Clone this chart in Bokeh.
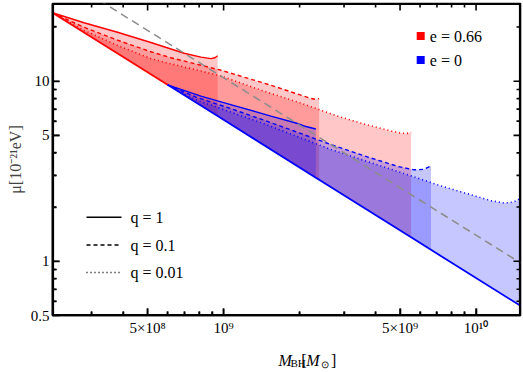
import math
from bokeh.plotting import figure
from bokeh.layouts import column
from bokeh.models import FixedTicker, Range1d
from bokeh.core.properties import value
from bokeh.embed import file_html
from bokeh.resources import INLINE

# ---------------- data ----------------
x_limits = [2.1e8, 1.5e10]
y_limits = [0.5, 27.0]

x_major_ticks = [5e8, 1e9, 5e9, 1e10]
x_major_labels = ["5×10⁸", "10⁹", "5×10⁹", "10¹⁰"]
x_minor_ticks = [3e8, 4e8, 6e8, 7e8, 8e8, 9e8, 2e9, 3e9, 4e9, 6e9, 7e9, 8e9, 9e9]
y_major_ticks = [0.5, 1, 5, 10]
y_major_labels = ["0.5", "1", "5", "10"]
y_minor_ticks = [0.6, 0.7, 0.8, 0.9, 2, 3, 4, 6, 7, 8, 9, 20]

# lower bound (common to all regions)
lower_M = [2.1e8, 6.0e8, 9.47e8, 2.32e9, 2.39e9, 5.53e9, 6.63e9, 1.5e10]
lower_mu = [24.0, 9.55, 6.40, 2.91, 2.84, 1.358, 1.158, 0.566]

# e = 0.66
red_q1_M = [2.1e8, 2.80e8, 3.80e8, 5.15e8, 6.98e8, 8.13e8, 8.91e8, 9.24e8, 9.47e8]
red_q1_mu = [24.0, 21.1, 18.7, 16.4, 14.3, 13.6, 13.35, 13.5, 13.84]
red_q01_M = [2.1e8, 2.80e8, 3.80e8, 5.15e8, 6.18e8, 9.76e8, 1.54e9, 2.025e9, 2.22e9, 2.32e9, 2.39e9]
red_q01_mu = [24.0, 19.9, 16.9, 14.57, 13.5, 11.5, 9.50, 8.36, 8.02, 7.92, 8.00]
red_q001_M = [2.1e8, 2.80e8, 3.80e8, 5.15e8, 6.18e8, 9.76e8, 1.405e9, 2.025e9, 2.79e9, 3.60e9,
              4.60e9, 5.04e9, 5.33e9, 5.53e9]
red_q001_mu = [24.0, 19.15, 15.8, 13.35, 12.5, 10.7, 8.92, 7.55, 6.44, 5.78, 5.29, 5.15, 5.13, 5.20]

# e = 0
blue_q1_M = [6.0e8, 8.13e8, 1.119e9, 1.54e9, 1.935e9, 2.12e9, 2.32e9]
blue_q1_mu = [9.55, 8.26, 7.27, 6.40, 5.86, 5.60, 5.43]
blue_q01_M = [6.0e8, 7.77e8, 1.04e9, 1.405e9, 1.90e9, 2.66e9, 3.60e9, 4.91e9, 5.68e9, 6.22e9, 6.63e9]
blue_q01_mu = [9.55, 8.15, 7.13, 6.16, 5.29, 4.45, 3.85, 3.36, 3.22, 3.24, 3.39]
blue_q001_M = [6.0e8, 7.63e8, 1.04e9, 1.405e9, 1.935e9, 2.66e9, 3.60e9, 5.53e9, 7.27e9, 9.13e9,
               1.147e10, 1.29e10, 1.402e10, 1.467e10, 1.5e10]
blue_q001_mu = [9.55, 7.95, 6.82, 5.89, 4.96, 4.18, 3.63, 2.98, 2.62, 2.385, 2.17, 2.105, 2.13, 2.19, 2.28]

# grey dashed reference line
gray_M = [2.9e8, 1.5e10]
gray_mu = [30.8, 0.98]

e_labels = ["e = 0.66", "e = 0"]
q_labels = ["q = 1", "q = 0.1", "q = 0.01"]
y_title = "μ[10⁻²¹eV]"
# x title pieces: text, style, size
x_title_parts = [("M", "italic", "16px"), ("BH", "normal", "11px"), ("[", "normal", "16px"),
                 ("M", "italic", "16px"), ("⊙", "normal", "10px"), ("]", "normal", "16px")]

# ---------------- layout / styling ----------------
RED = "#ff0000"
BLUE = "#0000ff"
FILL_ALPHA = 0.22
SERIF = "Liberation Serif"
dashes = ["solid", "4 3", "1 3"]
widths = [1.4, 1.4, 1.6]
FW, FH = 468, 312          # frame size in px
MAJOR_LEN, MINOR_LEN = 7, 4


def px_to_M(px):           # px from frame left
    lo, hi = math.log10(x_limits[0]), math.log10(x_limits[1])
    return 10 ** (lo + (hi - lo) * px / FW)


def px_to_mu(py):          # px from frame top
    lo, hi = math.log10(y_limits[0]), math.log10(y_limits[1])
    return 10 ** (hi - (hi - lo) * py / FH)


p = figure(frame_width=FW, frame_height=FH,
           x_axis_type="log", y_axis_type="log",
           x_range=Range1d(*x_limits), y_range=Range1d(*y_limits),
           output_backend="svg", toolbar_location=None,
           min_border_left=52, min_border_right=2, min_border_top=3, min_border_bottom=24)
p.grid.visible = False
p.outline_line_color = "black"
p.outline_line_width = 1.6

lower_lookup = dict(zip(lower_M, lower_mu))


def region(M, mu, color):
    xs = list(M) + [M[-1]]
    ys = list(mu) + [lower_lookup[M[-1]]]
    p.patch(xs, ys, fill_color=color, fill_alpha=FILL_ALPHA, line_color=None)


red_sets = [(red_q1_M, red_q1_mu), (red_q01_M, red_q01_mu), (red_q001_M, red_q001_mu)]
blue_sets = [(blue_q1_M, blue_q1_mu), (blue_q01_M, blue_q01_mu), (blue_q001_M, blue_q001_mu)]

for M, mu in red_sets:
    region(M, mu, RED)
for M, mu in blue_sets:
    region(M, mu, BLUE)
for (M, mu), d, w in zip(red_sets, dashes, widths):
    p.line(M, mu, line_color=RED, line_width=w, line_dash=d)
for (M, mu), d, w in zip(blue_sets, dashes, widths):
    p.line(M, mu, line_color=BLUE, line_width=w, line_dash=d)
p.line(gray_M, gray_mu, line_color="#8c8c8c", line_width=1.5, line_dash="8 5")

# ---------------- legends (drawn in the frame) ----------------
sq_x = [px_to_M(368.2)] * 2
sq_y = [px_to_mu(32.5), px_to_mu(56.5)]
p.rect(x=sq_x, y=sq_y, width=8, height=8, width_units="screen", height_units="screen",
       fill_color=[RED, BLUE], line_color=None)
p.text(x=[px_to_M(377.3)] * 2, y=sq_y, text=e_labels, text_font=value(SERIF),
       text_font_size="16px", text_baseline="middle", text_align="left", text_color="black")

row_y = [px_to_mu(213.7), px_to_mu(241.5), px_to_mu(269.0)]
for yy, d, w in zip(row_y, dashes, widths):
    p.line([px_to_M(34), px_to_M(69)], [yy, yy], line_color="black", line_width=w, line_dash=d)
p.text(x=[px_to_M(78)] * 3, y=row_y, text=q_labels, text_font=value(SERIF),
       text_font_size="16px", text_baseline="middle", text_align="left", text_color="black")

# solid lower bounds
split = lower_M.index(blue_q1_M[0])
p.line(lower_M[:split + 1], lower_mu[:split + 1], line_color=RED, line_width=1.8)
p.line(lower_M[split:], lower_mu[split:], line_color=BLUE, line_width=1.8)

# ---------------- frame and inward ticks on all four sides (thicker strokes) ----------------
x0s, y0s, x1s, y1s = [], [], [], []
for ticks, L in ((x_major_ticks, MAJOR_LEN), (x_minor_ticks, MINOR_LEN)):
    for t in ticks:
        x0s += [t, t]
        x1s += [t, t]
        y0s += [y_limits[0], y_limits[1]]
        y1s += [px_to_mu(FH - L), px_to_mu(L)]
for ticks, L in ((y_major_ticks, MAJOR_LEN), (y_minor_ticks, MINOR_LEN)):
    for t in ticks:
        y0s += [t, t]
        y1s += [t, t]
        x0s += [x_limits[0], x_limits[1]]
        x1s += [px_to_M(L), px_to_M(FW - L)]
p.segment(x0=x0s, y0=y0s, x1=x1s, y1=y1s, line_color="black", line_width=1.6)

ins = 0.8
fx = [px_to_M(ins), px_to_M(FW - ins), px_to_M(FW - ins), px_to_M(ins), px_to_M(ins)]
fy = [px_to_mu(ins), px_to_mu(ins), px_to_mu(FH - ins), px_to_mu(FH - ins), px_to_mu(ins)]
p.line(fx, fy, line_color="black", line_width=1.6)


# ---------------- axes (labels; own strokes thick too) ----------------
def style_axis(ax, ticks, minor, labels):
    ax.ticker = FixedTicker(ticks=ticks, minor_ticks=minor)
    ax.axis_line_color = "black"
    ax.axis_line_width = 1.6
    ax.major_tick_line_color = "black"
    ax.minor_tick_line_color = "black"
    ax.major_tick_line_width = 1.6
    ax.minor_tick_line_width = 1.6
    ax.major_tick_in = MAJOR_LEN
    ax.major_tick_out = 0
    ax.minor_tick_in = MINOR_LEN
    ax.minor_tick_out = 0
    ax.major_label_overrides = dict(zip(ticks, labels))
    ax.major_label_text_font = SERIF
    ax.major_label_text_font_size = "15px"
    ax.major_label_text_color = "black"


style_axis(p.xaxis[0], x_major_ticks, x_minor_ticks, x_major_labels)
p.xaxis[0].major_label_standoff = 4
style_axis(p.yaxis[0], y_major_ticks, y_minor_ticks, y_major_labels)
p.yaxis[0].major_label_standoff = 3
p.yaxis[0].axis_label = y_title
p.yaxis[0].axis_label_text_font = SERIF
p.yaxis[0].axis_label_text_font_style = "normal"
p.yaxis[0].axis_label_text_font_size = "16px"
p.yaxis[0].axis_label_standoff = 4

# ---------------- x-axis title (separate strip below the plot) ----------------
cap = figure(width=522, height=32, x_range=Range1d(0, 522), y_range=Range1d(0, 32),
             output_backend="svg", toolbar_location=None,
             min_border=0, outline_line_color=None)
cap.axis.visible = False
cap.grid.visible = False
x_pos = [252.0, 265.5, 277.5, 283.0, 299.0, 310.5]
y_pos = [11.5, 9.0, 11.5, 11.5, 7.0, 11.5]
for (txt, st, fs), xx, yy in zip(x_title_parts, x_pos, y_pos):
    cap.text(x=[xx], y=[yy], text=[txt], text_font=value(SERIF), text_font_style=st,
             text_font_size=fs, text_baseline="alphabetic", text_align="left", text_color="black")

layout = column(p, cap, spacing=0)
open("out.html", "w").write(file_html(layout, INLINE))
